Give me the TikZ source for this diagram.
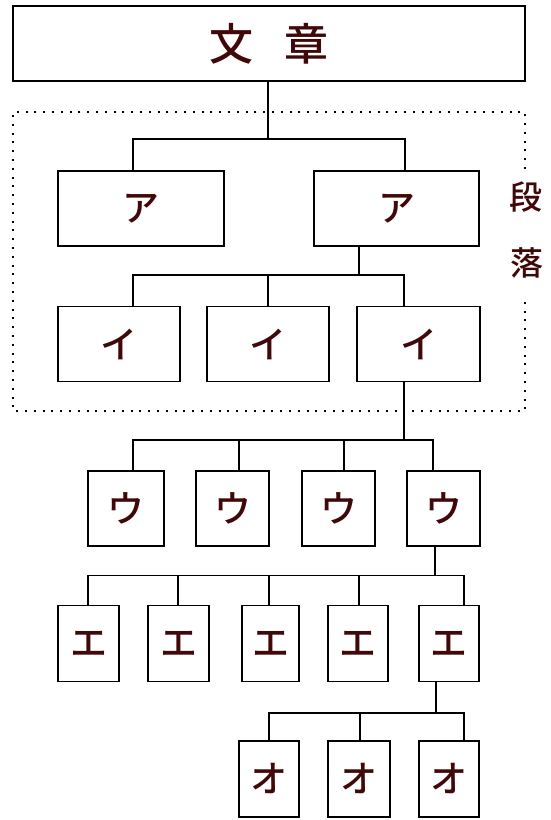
\documentclass[tikz,border=0pt]{standalone}
\usepackage{fontspec}
\newfontfamily\jpfont{Noto Sans CJK JP}[UprightFont={* Medium}]
\definecolor{txt}{RGB}{64,8,8}
\begin{document}
\begin{tikzpicture}[x=1pt,y=-1pt,
  box/.style={draw=black,line width=1.7pt,rectangle,inner sep=0pt,outer sep=0pt,text=txt},
  kana/.style={box,font=\jpfont\fontsize{37}{37}\selectfont},
  conn/.style={draw=black,line width=1.7pt},
  side/.style={text=txt,inner sep=0pt,font=\jpfont\fontsize{33}{33}\selectfont}]
\useasboundingbox (0,0) rectangle (551,820);
% title
\node[box,minimum width=512pt,minimum height=75pt,font=\jpfont\fontsize{44}{44}\selectfont] (T) at (269,43.5) {文\hspace{31pt}章};
% dotted paragraph frame
\draw[line width=2pt,dash pattern=on 2pt off 6.8pt] (525,169) -- (525,112) -- (13,112) -- (13,411) -- (525,411) -- (525,297);
\node[side] (s1) at (526,197) {段};
\node[side] (s2) at (527,263) {落};
% level A
\node[kana,minimum width=166pt,minimum height=75pt] (A1) at (141,208.5) {ア};
\node[kana,minimum width=165pt,minimum height=75pt] (A2) at (396.5,208.5) {ア};
% level I
\node[kana,minimum width=122pt,minimum height=75pt] (I1) at (119,344) {イ};
\node[kana,minimum width=122pt,minimum height=75pt] (I2) at (268,344) {イ};
\node[kana,minimum width=123pt,minimum height=75pt] (I3) at (418.5,344) {イ};
% level U
\node[kana,minimum width=76pt,minimum height=75pt] (U1) at (126,508.5) {ウ};
\node[kana,minimum width=73pt,minimum height=75pt] (U2) at (232.5,508.5) {ウ};
\node[kana,minimum width=73pt,minimum height=75pt] (U3) at (338.5,508.5) {ウ};
\node[kana,minimum width=73pt,minimum height=75pt] (U4) at (443.5,508.5) {ウ};
% level E
\node[kana,minimum width=61pt,minimum height=76pt] (E1) at (88.5,643.5) {エ};
\node[kana,minimum width=61pt,minimum height=76pt] (E2) at (178.5,643.5) {エ};
\node[kana,minimum width=57pt,minimum height=76pt] (E3) at (270.5,643.5) {エ};
\node[kana,minimum width=60pt,minimum height=76pt] (E4) at (358,643.5) {エ};
\node[kana,minimum width=60pt,minimum height=76pt] (E5) at (449,643.5) {エ};
% level O
\node[kana,minimum width=60pt,minimum height=75.5pt] (O1) at (269,779) {オ};
\node[kana,minimum width=62pt,minimum height=75.5pt] (O2) at (359,779) {オ};
\node[kana,minimum width=60pt,minimum height=75.5pt] (O3) at (449,779) {オ};
% junction coordinates
\coordinate (jT) at (268,139);
\coordinate (jTa) at (133,139); \coordinate (jTb) at (405,139);
\coordinate (jA) at (359,275);
\coordinate (jAa) at (133,275); \coordinate (jAb) at (268,275); \coordinate (jAc) at (404,275);
\coordinate (jI) at (404,440);
\coordinate (jIa) at (133,440); \coordinate (jIb) at (239,440); \coordinate (jIc) at (344,440); \coordinate (jId) at (433,440);
\coordinate (jU) at (435,575.5);
\coordinate (jUa) at (88,575.5); \coordinate (jUb) at (178,575.5); \coordinate (jUc) at (269,575.5); \coordinate (jUd) at (359,575.5); \coordinate (jUe) at (464,575.5);
\coordinate (jE) at (436,713);
\coordinate (jEa) at (269,713); \coordinate (jEb) at (360,713); \coordinate (jEc) at (464,713);
% connectors
\draw[conn] (T.south -| jT) -- (jT);
\draw[conn] (A1.north -| jTa) -- (jTa) -- (jTb) -- (A2.north -| jTb);
\draw[conn] (A2.south -| jA) -- (jA);
\draw[conn] (I1.north -| jAa) -- (jAa) -- (jAc) -- (I3.north -| jAc);
\draw[conn] (jAb) -- (I2.north -| jAb);
\draw[conn] (I3.south -| jI) -- (jI);
\draw[conn] (U1.north -| jIa) -- (jIa) -- (jId) -- (U4.north -| jId);
\draw[conn] (jIb) -- (U2.north -| jIb);
\draw[conn] (jIc) -- (U3.north -| jIc);
\draw[conn] (U4.south -| jU) -- (jU);
\draw[conn] (E1.north -| jUa) -- (jUa) -- (jUe) -- (E5.north -| jUe);
\draw[conn] (jUb) -- (E2.north -| jUb);
\draw[conn] (jUc) -- (E3.north -| jUc);
\draw[conn] (jUd) -- (E4.north -| jUd);
\draw[conn] (E5.south -| jE) -- (jE);
\draw[conn] (O1.north -| jEa) -- (jEa) -- (jEc) -- (O3.north -| jEc);
\draw[conn] (jEb) -- (O2.north -| jEb);
\end{tikzpicture}
\end{document}
